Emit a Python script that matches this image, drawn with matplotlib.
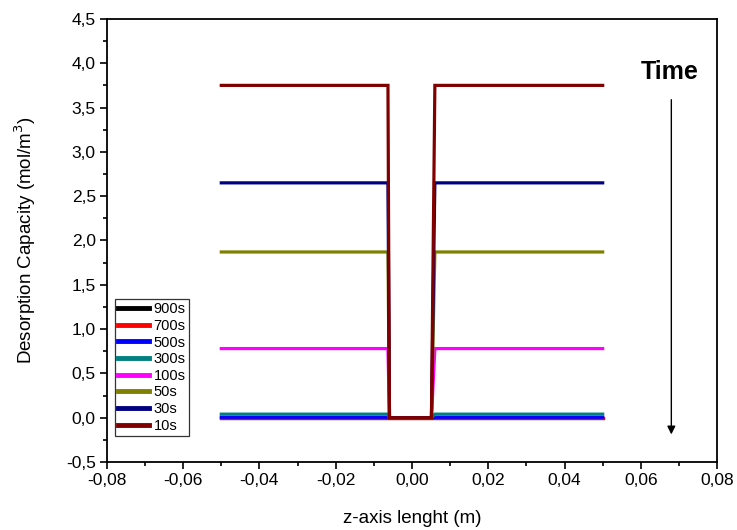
import numpy as np
from matplotlib import pyplot as plt
from matplotlib.ticker import MultipleLocator, FuncFormatter

plt.rcParams['font.family'] = ['Liberation Sans', 'DejaVu Sans']

# z positions of the profile (m): plateau, drop, floor, rise, plateau
z = [-0.05, -0.0063, -0.0059, 0.0051, 0.0060, 0.05]

labels = ['900s', '700s', '500s', '300s', '100s', '50s', '30s', '10s']
levels = [0.0, 0.0, 0.005, 0.04, 0.78, 1.87, 2.65, 3.75]
colors = ['#000000', '#ff0000', '#0000ff', '#008080', '#ff00ff',
          '#808000', '#000080', '#800000']

fig = plt.figure(figsize=(7.37, 5.30), dpi=100)
ax = fig.add_axes([0.145, 0.1283, 0.828, 0.836])

for lab, v, c in zip(labels, levels, colors):
    y = [v, v, 0.0, 0.0, v, v]
    ax.plot(z, y, color=c, lw=2.3, label=lab, solid_joinstyle='miter')

ax.set_xlim(-0.08, 0.08)
ax.set_ylim(-0.5, 4.5)
ax.xaxis.set_major_locator(MultipleLocator(0.02))
ax.xaxis.set_minor_locator(MultipleLocator(0.01))
ax.yaxis.set_major_locator(MultipleLocator(0.5))
ax.yaxis.set_minor_locator(MultipleLocator(0.25))
ax.xaxis.set_major_formatter(FuncFormatter(lambda v, p: ('%.2f' % v).replace('.', ',').replace('-0,00', '0,00')))
ax.yaxis.set_major_formatter(FuncFormatter(lambda v, p: ('%.1f' % v).replace('.', ',').replace('-0,0', '0,0')))
ax.tick_params(which='major', direction='out', length=5, width=1.2, labelsize=12.5, pad=3)
ax.tick_params(which='minor', direction='out', length=3, width=1.2)
for s in ax.spines.values():
    s.set_linewidth(1.3)

ax.set_xlabel('z-axis lenght (m)', fontsize=13.5, labelpad=16)
ax.set_ylabel('Desorption Capacity (mol/m$^3$)', fontsize=13.5, labelpad=20)

ax.annotate('', xy=(0.068, -0.22), xytext=(0.068, 3.62),
            arrowprops=dict(arrowstyle='-|>', color='black', lw=1, mutation_scale=12))
ax.text(0.0675, 3.9, 'Time', fontsize=18, fontweight='bold', ha='center', va='center')

leg = ax.legend(loc='lower left', bbox_to_anchor=(0.013, 0.058), fontsize=10.5,
                frameon=True, fancybox=False, edgecolor='black', handlelength=2.1,
                handletextpad=0.3, labelspacing=0.18, borderpad=0.25, borderaxespad=0)
leg.get_frame().set_linewidth(0.9)
for h in leg.get_lines():
    h.set_linewidth(3.5)

fig.savefig('out.png', dpi=100)
